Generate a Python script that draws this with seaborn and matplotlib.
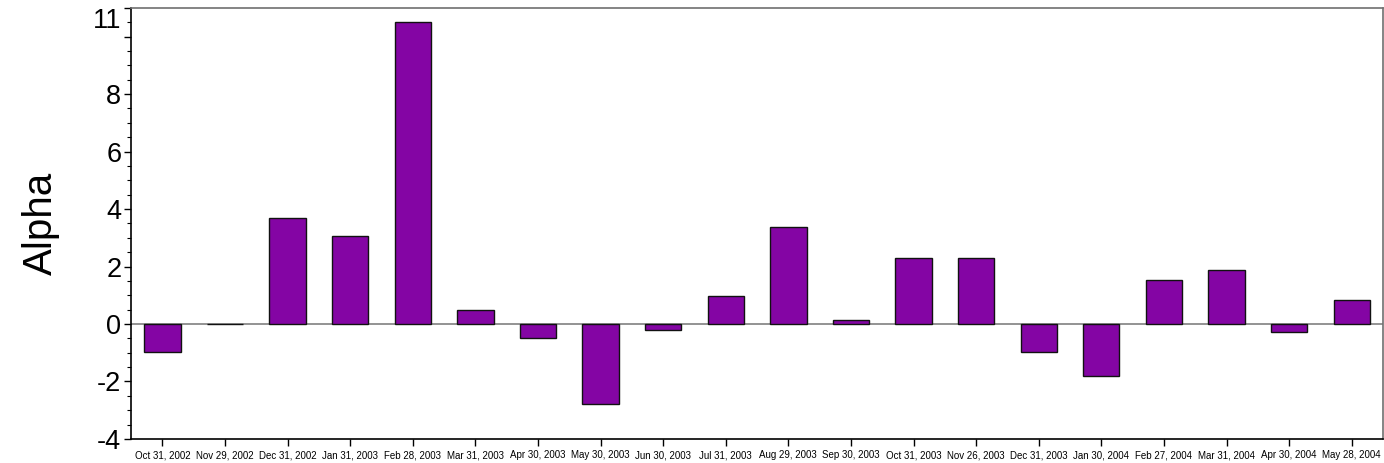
import matplotlib
matplotlib.use("Agg")
import matplotlib.pyplot as plt
import seaborn as sns
import pandas as pd
import numpy as np
from matplotlib.ticker import FixedLocator, MultipleLocator

dates = ["Oct 31, 2002", "Nov 29, 2002", "Dec 31, 2002", "Jan 31, 2003", "Feb 28, 2003",
         "Mar 31, 2003", "Apr 30, 2003", "May 30, 2003", "Jun 30, 2003", "Jul 31, 2003",
         "Aug 29, 2003", "Sep 30, 2003", "Oct 31, 2003", "Nov 26, 2003", "Dec 31, 2003",
         "Jan 30, 2004", "Feb 27, 2004", "Mar 31, 2004", "Apr 30, 2004", "May 28, 2004"]
alpha = [-0.97, 0.01, 3.70, 3.07, 10.52,
         0.48, -0.49, -2.78, -0.21, 0.97,
         3.36, 0.14, 2.30, 2.30, -0.98,
         -1.80, 1.53, 1.88, -0.28, 0.83]
y_ticks = [-4, -2, 0, 2, 4, 6, 8, 10, 11]
y_tick_labels = ["-4", "-2", "0", "2", "4", "6", "8", "", "11"]

sns.set_theme(style="white")
plt.rcParams["font.family"] = ["Liberation Sans", "DejaVu Sans"]
plt.rcParams["text.color"] = "black"
plt.rcParams["axes.labelcolor"] = "black"
plt.rcParams["xtick.color"] = "black"
plt.rcParams["ytick.color"] = "black"

df = pd.DataFrame({"date": dates, "alpha": alpha})

fig = plt.figure(figsize=(13.84, 4.63), dpi=100)
ax = fig.add_axes([0.0947, 0.052, 0.9046, 0.931])

sns.barplot(data=df, x="date", y="alpha", color="#8405A4", saturation=1,
            width=0.58, edgecolor="#111111", linewidth=1.0, ax=ax)

ax.axhline(0, color="#808080", linewidth=1.2, zorder=0.5)
ax.set_xlim(-0.5, len(dates) - 0.5)
ax.set_ylim(-4, 11)

ax.yaxis.set_major_locator(FixedLocator(y_ticks))
ax.set_yticklabels(y_tick_labels, fontsize=19.5, color="black")
ax.yaxis.set_minor_locator(MultipleLocator(0.5))
ax.tick_params(axis="y", which="major", direction="out", length=5, width=1,
               color="black", labelcolor="black", left=True, pad=2)
ax.tick_params(axis="y", which="minor", direction="out", length=3, width=0.8,
               color="black", left=True)
ax.tick_params(axis="x", which="major", direction="out", length=5, width=1,
               color="black", labelcolor="black", bottom=True, labelsize=7, pad=3)

# the top label sits just below the top edge in the reference
ax.get_yticklabels()[-1].set_verticalalignment("top")

ax.set_xlabel("")
ax.set_ylabel("Alpha", fontsize=29, labelpad=24, color="black")

for side in ["left", "bottom"]:
    ax.spines[side].set_color("black")
    ax.spines[side].set_linewidth(1.2)
for side in ["top", "right"]:
    ax.spines[side].set_visible(True)
    ax.spines[side].set_color("#707070")
    ax.spines[side].set_linewidth(1.2)

fig.savefig("out.png", dpi=100, facecolor="white")
